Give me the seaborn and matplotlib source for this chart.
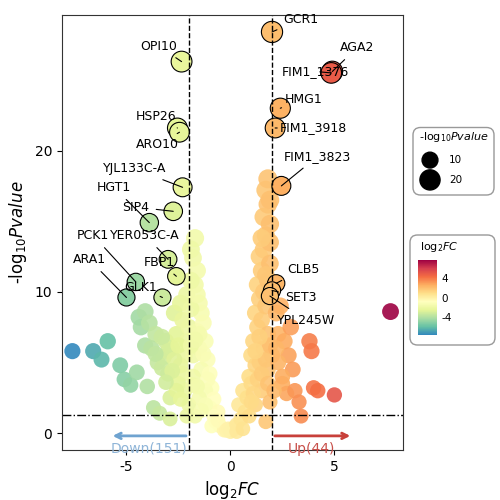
import numpy as np
import pandas as pd
import matplotlib
matplotlib.use("Agg")
import matplotlib.pyplot as plt
import seaborn as sns
from matplotlib.colors import Normalize, LinearSegmentedColormap
from matplotlib.patches import FancyBboxPatch
import matplotlib.cm as cm

plt.rcParams["axes.unicode_minus"] = False

bg_x = [-7.6,-6.6,-6.2,-5.9,-5.3,-5.1,-4.8,-4.5,-4.0,-3.7,-4.1,-4.3,-4.4,-4.1,-3.9,-3.6,-3.5,-3.2,-3.1,-2.8,-2.6,-3.0,-2.9,-3.4,-2.9,-2.5,-2.4,-2.2,-2.1,-2.7,-2.4,-2.3,-2.1,-2.0,-2.2,-2.0,-2.1,
        -3.8,-3.3,-3.0,-2.7,-2.5,-2.3,-3.6,-3.3,-2.8,-2.6,-3.1,-2.4,
        -1.7,-1.9,-1.8,-1.6,-1.5,-1.7,-1.4,-1.6,-1.3,-1.5,-1.2,-1.1,-1.4,-1.0,-0.9,-1.2,-0.8,-1.0,-0.6,-0.7,-0.5,-0.9,-0.3,-1.5,-1.8,-1.8,-1.9,-1.7,
        -1.6,-1.3,-1.1,-0.8,-0.6,-1.9,-1.5,-1.2,-1.8,-1.6,-1.4,-1.9,-1.7,
        0.0,-0.1,0.1,0.2,-0.2,0.3,
        0.3,0.5,0.4,0.7,0.6,0.8,0.9,1.0,1.0,1.1,1.2,1.3,1.2,1.4,1.3,1.5,1.4,1.6,1.7,1.6,1.8,1.7,1.8,1.9,1.9,1.9,1.5,1.7,1.8,1.6,1.4,1.2,1.5,1.8,1.9,1.7,2.0,
        0.6,0.9,1.1,1.3,1.5,1.7,1.9,1.6,1.8,1.4,1.2,1.0,1.7,1.9,1.5,1.8,
        2.3,2.6,2.8,3.0,2.5,2.7,3.1,3.8,3.9,3.3,3.4,4.0,4.2,5.0,2.2,2.4,2.3,2.9,2.2,2.5,2.1,7.7]
bg_y = [5.8,5.8,5.2,6.5,4.8,3.8,3.4,4.3,3.3,1.8,6.2,7.5,8.2,8.6,7.8,7.0,5.0,5.4,6.5,6.0,7.0,4.2,2.5,1.4,1.0,3.5,4.8,5.5,6.5,8.5,9.2,8.0,9.8,7.5,3.0,2.0,1.2,
        6.0,6.8,5.8,5.2,6.2,4.2,5.6,4.6,4.4,3.0,3.6,2.4,
        13.8,13.0,12.4,11.5,9.2,10.5,8.5,7.2,7.8,6.0,6.5,5.2,4.5,4.2,3.2,3.0,2.4,1.8,1.5,0.8,0.5,0.5,0.2,2.5,4.0,5.5,8.8,1.2,
        9.8,5.6,3.8,1.2,0.9,6.2,7.0,2.0,3.4,3.3,1.6,10.8,6.6,
        0.1,0.3,0.2,0.4,0.2,0.1,
        0.6,1.0,2.0,1.5,3.0,2.5,4.0,3.5,5.5,6.5,4.8,7.5,8.5,9.5,10.5,11.5,12.5,13.0,14.0,15.3,16.2,17.2,18.0,16.5,13.5,12.0,8.0,9.0,7.0,6.0,5.0,2.0,3.0,4.5,2.2,0.8,5.5,
        0.3,1.2,2.8,3.8,4.2,5.2,6.2,10.0,10.8,6.8,5.8,2.2,11.2,14.8,13.8,3.5,
        7.0,6.5,5.5,4.5,3.5,2.8,3.0,6.5,5.8,2.2,1.2,3.2,3.0,2.7,8.5,9.0,5.0,7.5,6.0,4.0,3.0,8.6]

lab_names = ["GCR1","AGA2","FIM1_1376","HMG1","FIM1_3918","FIM1_3823","CLB5","SET3","YPL245W",
             "OPI10","HSP26","ARO10","YJL133C-A","HGT1","SIP4","YER053C-A","PCK1","FBP1","ARA1","GLK1"]
lab_x = [2.0,4.9,4.85,2.4,2.15,2.45,2.2,2.0,1.9,
         -2.35,-2.55,-2.45,-2.3,-3.9,-2.75,-3.0,-4.55,-2.6,-5.0,-3.27]
lab_y = [28.4,25.6,25.5,23.0,21.6,17.5,10.6,10.1,9.7,
         26.3,21.6,21.3,17.4,14.9,15.7,12.3,10.7,11.1,9.6,9.6]
lab_text_xy = [(3.4,29.3),(6.1,27.3),(4.1,25.6),(3.5,23.6),(4.0,21.6),(4.2,19.6),(3.5,11.6),(3.4,9.6),(3.65,8.0),
               (-3.45,27.4),(-3.6,22.4),(-3.5,20.4),(-4.6,18.7),(-5.6,17.4),(-4.55,16.0),(-4.1,14.0),(-6.6,14.0),(-3.4,12.1),(-6.8,12.3),(-4.3,10.3)]

norm = Normalize(-7.6, 7.6)
cmap = LinearSegmentedColormap.from_list("spec", ["#3288BD","#66C2A5","#ABDDA4","#E6F598","#FFFFBF",
                                                  "#FEE08B","#FDAE61","#F46D43","#D53E4F","#9E0142"])
df = pd.DataFrame({"x": bg_x, "y": bg_y})
dl = pd.DataFrame({"x": lab_x, "y": lab_y})

fig = plt.figure(figsize=(5, 5), dpi=100)
ax = fig.add_axes([0.124, 0.1, 0.682, 0.87])
sns.scatterplot(data=df, x="x", y="y", hue="x", palette=cmap, hue_norm=norm, size="y",
                sizes=(110, 240), size_norm=(0, 30), legend=False, linewidth=0, alpha=0.9, ax=ax)
sns.scatterplot(data=dl, x="x", y="y", hue="x", palette=cmap, hue_norm=norm, size="y",
                sizes=(110, 240), size_norm=(0, 30), legend=False, edgecolor="black", linewidth=0.8, ax=ax)
for n, x, y, (tx, ty) in zip(lab_names, lab_x, lab_y, lab_text_xy):
    ax.annotate(n, (x, y), (tx, ty), fontsize=9, ha="center", va="center",
                arrowprops=dict(arrowstyle="-", color="black", lw=0.8, shrinkA=3, shrinkB=0))

ax.axvline(-2, ls="--", color="black", lw=1)
ax.axvline(2, ls="--", color="black", lw=1)
ax.axhline(1.3, ls="-.", color="black", lw=1)
ax.annotate("", (-5.8, -0.2), (-2.0, -0.2), arrowprops=dict(arrowstyle="->", color="#6fa3d0", lw=2))
ax.annotate("", (5.9, -0.2), (2.0, -0.2), arrowprops=dict(arrowstyle="->", color="#c8403a", lw=2))
ax.text(-3.9, -0.6, "Down(151)", color="#8fb5d8", fontsize=10, ha="center", va="top")
ax.text(3.9, -0.6, "Up(44)", color="#c8504a", fontsize=10, ha="center", va="top")

ax.set_xlim(-8.1, 8.3)
ax.set_ylim(-1.2, 29.6)
ax.set_xticks([-5, 0, 5])
ax.set_yticks([0, 10, 20])
ax.tick_params(labelsize=10)
ax.set_xlabel(r"log$_2$$\it{FC}$", fontsize=12)
ax.set_ylabel(r"-log$_{10}$$\it{Pvalue}$", fontsize=12)
for s in ax.spines.values():
    s.set_color("#333333")

# size legend
box1 = FancyBboxPatch((0.826, 0.61), 0.162, 0.135, boxstyle="round,pad=0,rounding_size=0.015",
                      transform=fig.transFigure, fc="white", ec="#999999", lw=1, zorder=-5)
fig.patches.append(box1)
fig.text(0.907, 0.725, r"-log$_{10}$$\it{Pvalue}$", fontsize=8, ha="center", va="center")
lax = fig.add_axes([0.83, 0.615, 0.15, 0.09]); lax.axis("off"); lax.set_xlim(0, 1); lax.set_ylim(0, 1)
lax.scatter([0.2, 0.2], [0.72, 0.28], s=[130, 210], c="black")
lax.text(0.45, 0.72, "10", fontsize=7.5, va="center")
lax.text(0.45, 0.28, "20", fontsize=7.5, va="center")

# colorbar legend
box2 = FancyBboxPatch((0.82, 0.31), 0.17, 0.22, boxstyle="round,pad=0,rounding_size=0.015",
                      transform=fig.transFigure, fc="white", ec="#999999", lw=1, zorder=-5)
fig.patches.append(box2)
fig.text(0.84, 0.505, r"log$_2$$\it{FC}$", fontsize=8, ha="left", va="center")
cax = fig.add_axes([0.836, 0.33, 0.038, 0.15])
cb = fig.colorbar(cm.ScalarMappable(norm=norm, cmap=cmap), cax=cax, ticks=[-4, 0, 4])
cb.outline.set_visible(False)
cax.tick_params(labelsize=7.5, length=0)
fig.savefig("out.png", dpi=100)
